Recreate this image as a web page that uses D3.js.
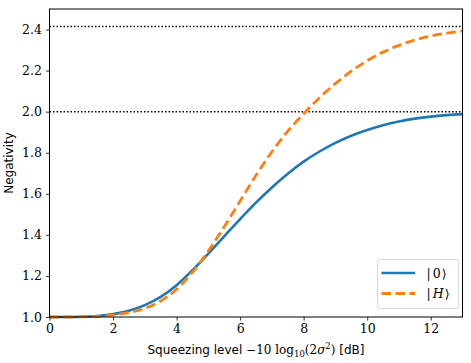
<!DOCTYPE html>
<html>
<head>
<meta charset="utf-8">
<script src="https://cdn.jsdelivr.net/npm/d3@7"></script>
<style>
  body { margin: 0; background: #fff; }
  svg { display: block; }
</style>
</head>
<body>
<div id="chart"></div>
<script>
// squeezing level in dB
const squeezing = [0, 0.5, 1, 1.5, 2, 2.5, 3, 3.5, 4, 4.5, 5, 5.5, 6, 6.5, 7,
                   7.5, 8, 8.5, 9, 9.5, 10, 10.5, 11, 11.5, 12, 12.5, 13];
// negativity of |0> state
const negVacuum = [1.000, 1.000, 1.001, 1.005, 1.014, 1.031, 1.058, 1.098, 1.155,
                   1.228, 1.309, 1.393, 1.477, 1.557, 1.631, 1.698, 1.757, 1.806,
                   1.848, 1.883, 1.911, 1.934, 1.952, 1.966, 1.976, 1.983, 1.988];
// negativity of |H> state
const negH = [1.000, 1.000, 1.001, 1.003, 1.010, 1.022, 1.042, 1.078, 1.135,
              1.218, 1.322, 1.440, 1.565, 1.690, 1.805, 1.905, 1.990, 2.068,
              2.137, 2.197, 2.248, 2.290, 2.323, 2.349, 2.368, 2.382, 2.392];
// asymptotes
const limits = [2, 1 + Math.SQRT2];

const xTicks = [0, 2, 4, 6, 8, 10, 12];
const yTicks = [1.0, 1.2, 1.4, 1.6, 1.8, 2.0, 2.2, 2.4];

const W = 471, H = 363;
const margin = {left: 49.5, right: 8.5, top: 9, bottom: 46};

const svg = d3.select('#chart').append('svg')
  .attr('width', W).attr('height', H);

const x = d3.scaleLinear().domain([0, 13]).range([margin.left, W - margin.right]);
const y = d3.scaleLinear().domain([1.0, 2.5]).range([H - margin.bottom, margin.top]);

const serif = '"DejaVu Serif", "Liberation Serif", serif';
const sans = '"DejaVu Sans", sans-serif';

const plot = svg.append('g');

// dotted asymptotes
plot.selectAll('line.limit')
  .data(limits)
  .enter()
  .append('line')
  .attr('class', 'limit')
  .attr('x1', x(0)).attr('x2', x(13))
  .attr('y1', d => y(d)).attr('y2', d => y(d))
  .attr('stroke', '#000')
  .attr('stroke-width', 1.5)
  .attr('stroke-dasharray', '1.5,2');

const line = (vals) => d3.line()
  .x((d, i) => x(squeezing[i]))
  .y(d => y(d))
  .curve(d3.curveMonotoneX)(vals);

plot.append('path')
  .attr('d', line(negVacuum))
  .attr('fill', 'none')
  .attr('stroke', '#1f77b4')
  .attr('stroke-width', 2.6);

plot.append('path')
  .attr('d', line(negH))
  .attr('fill', 'none')
  .attr('stroke', '#ff7f0e')
  .attr('stroke-width', 2.8)
  .attr('stroke-dasharray', '9.5,4.5');

// axes
const xAxis = svg.append('g')
  .attr('transform', `translate(0,${H - margin.bottom})`)
  .call(d3.axisBottom(x).tickValues(xTicks).tickSize(3.5).tickPadding(4).tickFormat(d3.format('d')));
const yAxis = svg.append('g')
  .attr('transform', `translate(${margin.left},0)`)
  .call(d3.axisLeft(y).tickValues(yTicks).tickSize(3.5).tickPadding(4).tickFormat(d3.format('.1f')));

[xAxis, yAxis].forEach(a => {
  a.select('.domain').remove();
  a.selectAll('.tick line').attr('stroke', '#000').attr('stroke-width', 0.8);
  a.selectAll('.tick text')
    .attr('fill', '#000')
    .attr('font-family', serif)
    .attr('font-size', '12.5px');
});

// frame
svg.append('rect')
  .attr('x', x(0)).attr('y', y(2.5))
  .attr('width', x(13) - x(0)).attr('height', y(1.0) - y(2.5))
  .attr('fill', 'none')
  .attr('stroke', '#000')
  .attr('stroke-width', 1);

// axis labels
const xl = svg.append('text')
  .attr('x', 256).attr('y', 354)
  .attr('text-anchor', 'middle')
  .attr('font-size', '12px')
  .attr('font-family', sans)
  .attr('fill', '#000');
xl.append('tspan').text('Squeezing level ');
xl.append('tspan').attr('font-family', serif).text('\u221210 log');
xl.append('tspan').attr('font-family', serif).attr('font-size', '8.5px').attr('dy', 3).text('10');
xl.append('tspan').attr('font-family', serif).attr('dy', -3).text('(2');
xl.append('tspan').attr('font-family', serif).attr('font-style', 'italic').text('\u03c3');
xl.append('tspan').attr('font-family', serif).attr('font-size', '8.5px').attr('dy', -5).text('2');
xl.append('tspan').attr('font-family', serif).attr('dy', 5).text(')');
xl.append('tspan').text(' [dB]');

svg.append('text')
  .attr('transform', `translate(13,${(y(1.0) + y(2.5)) / 2}) rotate(-90)`)
  .attr('text-anchor', 'middle')
  .attr('font-size', '12px')
  .attr('font-family', sans)
  .attr('fill', '#000')
  .text('Negativity');

// legend
const lg = svg.append('g').attr('transform', 'translate(377.5,259.5)');
lg.append('rect')
  .attr('width', 81).attr('height', 49)
  .attr('rx', 3)
  .attr('fill', '#fff').attr('fill-opacity', 0.8)
  .attr('stroke', '#d9d9d9');
const items = [
  {label: '0', color: '#1f77b4', dash: null, italic: false},
  {label: 'H', color: '#ff7f0e', dash: '9.5,4.5', italic: true}
];
items.forEach((it, i) => {
  const yy = 13.5 + i * 20.5;
  lg.append('line')
    .attr('x1', 4).attr('x2', 37.5)
    .attr('y1', yy).attr('y2', yy)
    .attr('stroke', it.color)
    .attr('stroke-width', it.dash ? 2.8 : 2.6)
    .attr('stroke-dasharray', it.dash);
  const t = lg.append('text')
    .attr('x', 49).attr('y', yy + 4.5)
    .attr('font-family', serif)
    .attr('font-size', '12.5px')
    .attr('fill', '#000');
  t.append('tspan').text('|');
  t.append('tspan').attr('font-style', it.italic ? 'italic' : 'normal').attr('dx', 2).text(it.label);
  t.append('tspan').attr('dx', 1).text('\u27e9');
});
</script>
</body>
</html>
